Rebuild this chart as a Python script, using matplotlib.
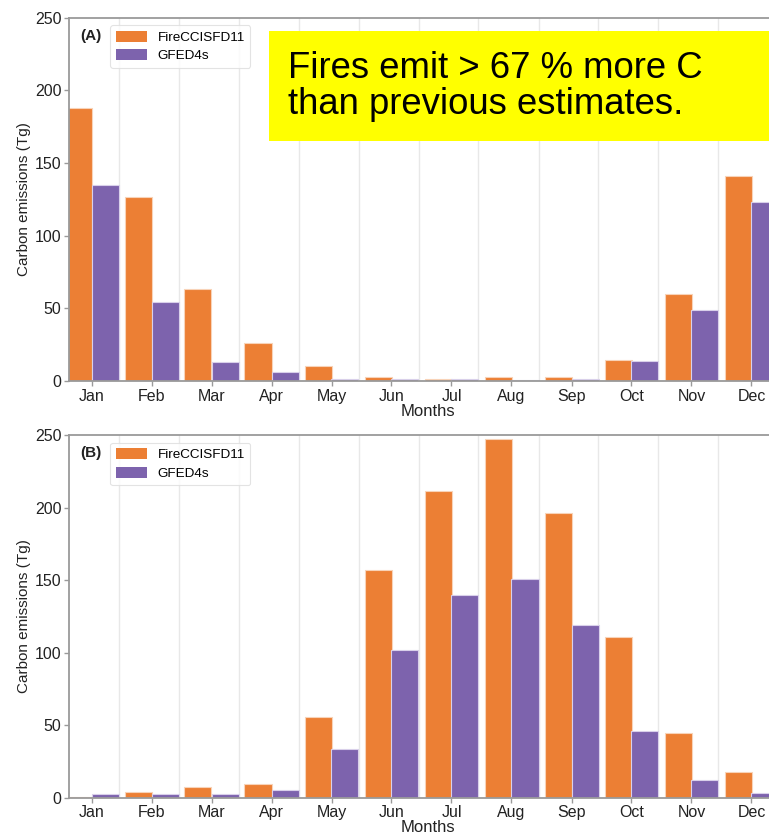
import matplotlib
matplotlib.use("Agg")
import matplotlib.pyplot as plt
from matplotlib.patches import Rectangle
import numpy as np

months = ["Jan", "Feb", "Mar", "Apr", "May", "Jun", "Jul", "Aug", "Sep", "Oct", "Nov", "Dec"]
series_names = ["FireCCISFD11", "GFED4s"]

fire_a = [188, 126.5, 63, 26, 10, 3, 1.6, 2.8, 2.8, 14.5, 60, 141]
gfed_a = [134.5, 54, 13, 6, 1.6, 1.1, 1.2, 0.7, 1.1, 13.5, 49, 123]

fire_b = [0.7, 3.9, 7.4, 9.4, 55.5, 157, 211.5, 247, 196, 111, 44.5, 17.7]
gfed_b = [2.3, 2.3, 2.3, 5.5, 33.5, 101.5, 140, 150.5, 119, 46, 12.2, 3]

panel_labels = ["(A)", "(B)"]
note_lines = ["Fires emit > 67 % more C", "than previous estimates."]

ORANGE = "#EC7F34"
PURPLE = "#7D63AD"
SPINE = "#9a9a9a"

plt.rcParams["font.family"] = ["Liberation Sans", "DejaVu Sans"]

W, H = 769, 834
fig = plt.figure(figsize=(W / 100, H / 100), dpi=100)

def px_axes(left, top, right, bottom):
    return [left / W, 1 - bottom / H, (right - left) / W, (bottom - top) / H]

axA = fig.add_axes(px_axes(69, 17.5, 787.5, 381))
axB = fig.add_axes(px_axes(69, 435, 787.5, 797.7))

x = np.arange(len(months))
bw = 0.45
for ax, f, g, lab in [(axA, fire_a, gfed_a, panel_labels[0]), (axB, fire_b, gfed_b, panel_labels[1])]:
    ax.bar(x - bw / 2, f, width=bw, color=ORANGE, edgecolor="#f8d3b8", linewidth=0.8,
           label=series_names[0], zorder=2)
    ax.bar(x + bw / 2, g, width=bw, color=PURPLE, edgecolor="#d9d0ea", linewidth=0.8,
           label=series_names[1], zorder=2)
    ax.set_xlim(-0.375, 11.6)
    ax.set_ylim(0, 250)
    ax.set_yticks([0, 50, 100, 150, 200, 250])
    ax.set_xticks(x)
    ax.set_xticklabels(months)
    ax.set_xticks(x + bw, minor=True)
    ax.grid(False)
    ax.xaxis.grid(True, which="minor", color="#e8e8e8", linewidth=1.0, zorder=0)
    ax.tick_params(axis="x", which="minor", length=0)
    ax.tick_params(axis="both", which="major", labelsize=11.5, colors="#222222",
                   length=3.5, width=1.0, pad=2)
    ax.tick_params(axis="both", which="major", color=SPINE)
    for s in ["left", "bottom", "top"]:
        ax.spines[s].set_color(SPINE)
        ax.spines[s].set_linewidth(1.3)
    ax.spines["right"].set_visible(False)
    ax.set_xlabel("Months", fontsize=12, color="#222222", labelpad=0)
    ax.set_ylabel("Carbon emissions (Tg)", fontsize=11, color="#222222", labelpad=3)
    ax.text(0.016, 0.95, lab, transform=ax.transAxes, fontsize=11, fontweight="bold",
            va="center", ha="left", color="#222222")
    leg = ax.legend(loc="upper left", bbox_to_anchor=(0.052, 0.99), fontsize=9.7,
                    frameon=True, fancybox=True, handlelength=2.3, handleheight=0.9,
                    borderpad=0.4, labelspacing=0.4, handletextpad=0.8, borderaxespad=0.3)
    leg.get_frame().set_edgecolor("#dddddd")
    leg.get_frame().set_linewidth(0.8)
    for h in leg.legend_handles:
        h.set_edgecolor("none")

# yellow note box
rect = Rectangle((269 / W, 1 - 141 / H), 1 - 269 / W + 0.01, 110 / H,
                 transform=fig.transFigure, facecolor="#FFFF00", edgecolor="none", zorder=10)
fig.patches.append(rect)
fig.text(288 / W, 1 - 78 / H, note_lines[0], fontsize=26.3, va="baseline", ha="left",
         color="black", zorder=11)
fig.text(288 / W, 1 - 114.5 / H, note_lines[1], fontsize=26.3, va="baseline", ha="left",
         color="black", zorder=11)

fig.savefig("out.png", dpi=100)
